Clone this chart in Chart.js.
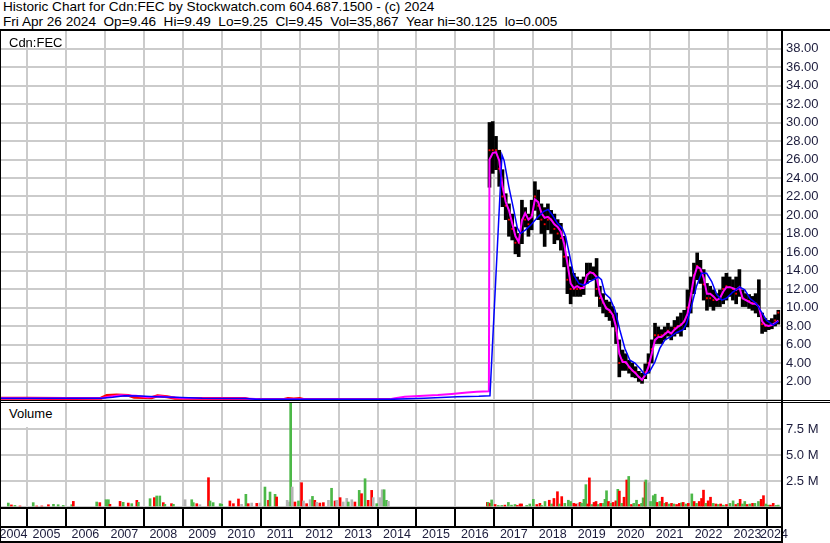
<!DOCTYPE html>
<html>
<head>
<meta charset="utf-8">
<script src="https://cdn.jsdelivr.net/npm/chart.js@4.4.1/dist/chart.umd.min.js"></script>
<style>
  body { margin: 0; background: #fff; }
  #wrap { position: relative; width: 830px; height: 543px; overflow: hidden; background: #fff;
          font-family: Arial, "Liberation Sans", sans-serif; color: #000; }
  #head { position: absolute; left: 3px; top: 0; font-size: 13.6px; line-height: 14.5px; white-space: pre; }
  canvas { position: absolute; left: 0; }
  #price { top: 30px; }
  #vol { top: 402px; }
  .ln { position: absolute; background: #000; }
  .box { position: absolute; left: 1px; width: 63px; background: #fff; }
  .tag { position: absolute; left: 9px; font-size: 13px; line-height: 15px; white-space: pre; }
</style>
</head>
<body>
<div id="wrap">
  <div id="head">Historic Chart for Cdn:FEC by Stockwatch.com 604.687.1500 - (c) 2024
Fri Apr 26 2024  Op=9.46  Hi=9.49  Lo=9.25  Cl=9.45  Vol=35,867  Year hi=30.125  lo=0.005</div>
  <canvas id="price" width="830" height="370"></canvas>
  <canvas id="vol" width="830" height="141"></canvas>

  <div class="box" style="top:31px;height:16px"></div>
  <div class="tag" style="top:35px">Cdn:FEC</div>
  <div class="box" style="top:403px;height:24px"></div>
  <div class="tag" style="top:406px">Volume</div>

  <div class="ln" style="left:0;top:29px;width:830px;height:2px"></div>
  <div class="ln" style="left:0;top:400px;width:830px;height:1px"></div>
  <div class="ln" style="left:0;top:402px;width:830px;height:1px"></div>
  <div class="ln" style="left:0;top:507px;width:782px;height:2px"></div>
  <div class="ln" style="left:0;top:526px;width:782px;height:2px"></div>
  <div class="ln" style="left:0;top:541px;width:782px;height:2px"></div>
  <div class="ln" style="left:0;top:31px;width:1px;height:512px"></div>
  <div class="ln" style="left:781px;top:29px;width:2px;height:514px"></div>
</div>

<script>
// x range of the plot, decimal years
const X_MIN = 2004.307;
const X_MAX = 2024.36;

const yearLabels = ["2004", "2005", "2006", "2007", "2008", "2009", "2010", "2011", "2012", "2013",
  "2014", "2015", "2016", "2017", "2018", "2019", "2020", "2021", "2022", "2023", "2024"];

// before the consolidation: price hugged zero
const oldDates = [2004.31, 2005.0, 2006.0, 2006.9, 2007.05, 2007.3, 2007.6, 2007.75, 2008.2, 2008.35,
  2008.6, 2008.8, 2010.6, 2010.7, 2011.6, 2011.7, 2011.85, 2012.0, 2012.1, 2014.32];
const oldPrice = [0.2, 0.18, 0.15, 0.2, 0.5, 0.55, 0.5, 0.3, 0.25, 0.45,
  0.35, 0.2, 0.15, 0.05, 0.05, 0.15, 0.1, 0.15, 0.05, 0.05];

// monthly high/low/close after trading resumed
const priceMonths = [
  "2016-11", "2016-12",
  "2017-01", "2017-02", "2017-03", "2017-04", "2017-05", "2017-06", "2017-07", "2017-08", "2017-09", "2017-10", "2017-11", "2017-12",
  "2018-01", "2018-02", "2018-03", "2018-04", "2018-05", "2018-06", "2018-07", "2018-08", "2018-09", "2018-10", "2018-11", "2018-12",
  "2019-01", "2019-02", "2019-03", "2019-04", "2019-05", "2019-06", "2019-07", "2019-08", "2019-09", "2019-10", "2019-11", "2019-12",
  "2020-01", "2020-02", "2020-03", "2020-04", "2020-05", "2020-06", "2020-07", "2020-08", "2020-09", "2020-10", "2020-11", "2020-12",
  "2021-01", "2021-02", "2021-03", "2021-04", "2021-05", "2021-06", "2021-07", "2021-08", "2021-09", "2021-10", "2021-11", "2021-12",
  "2022-01", "2022-02", "2022-03", "2022-04", "2022-05", "2022-06", "2022-07", "2022-08", "2022-09", "2022-10", "2022-11", "2022-12",
  "2023-01", "2023-02", "2023-03", "2023-04", "2023-05", "2023-06", "2023-07", "2023-08", "2023-09", "2023-10", "2023-11", "2023-12",
  "2024-01", "2024-02", "2024-03", "2024-04"];
const priceLow = [
  23.0, 24.5,
  24.9, 23.1, 20.9, 19.5, 17.7, 17.3, 15.8, 15.5, 16.9, 18.7, 17.7, 18.4,
  20.5, 19.5, 18.0, 16.6, 18.4, 18.0, 16.9, 17.3, 16.2, 14.4, 11.5, 10.4,
  11.2, 11.2, 11.2, 11.4, 12.6, 13.0, 13.0, 11.2, 10.1, 9.4, 9.0, 8.6,
  7.9, 6.1, 2.5, 3.2, 3.2, 2.9, 2.5, 2.4, 2.0, 1.8, 2.3, 2.9,
  4.0, 6.1, 6.1, 6.1, 6.5, 6.9, 6.5, 6.9, 7.2, 6.9, 7.6, 7.9,
  9.4, 11.5, 13.0, 12.6, 10.8, 9.7, 10.1, 9.7, 10.1, 10.1, 10.4, 10.8,
  11.2, 10.8, 10.4, 11.2, 10.1, 10.1, 9.9, 9.7, 9.4, 9.0, 7.2, 7.4,
  7.6, 7.7, 8.0, 8.2];
const priceHigh = [
  30.0, 30.1,
  28.5, 27.0, 24.9, 22.3, 21.2, 20.1, 18.7, 18.0, 21.6, 20.8, 20.1, 21.6,
  23.6, 22.7, 21.2, 20.8, 21.2, 20.5, 20.1, 19.5, 19.1, 17.7, 15.5, 14.4,
  13.7, 13.3, 13.0, 13.3, 14.8, 14.8, 14.4, 15.3, 12.3, 11.5, 10.8, 10.6,
  10.1, 9.4, 6.5, 5.4, 5.0, 4.3, 4.0, 3.6, 3.1, 2.9, 3.9, 5.0,
  6.5, 8.3, 7.9, 7.6, 7.9, 8.3, 7.9, 8.6, 9.0, 9.4, 9.7, 11.9,
  13.3, 14.8, 15.9, 15.1, 14.1, 12.6, 12.3, 11.9, 11.5, 11.9, 13.3, 13.7,
  13.3, 13.0, 13.3, 14.1, 11.9, 11.5, 11.4, 11.2, 11.5, 13.0, 9.4, 8.8,
  8.6, 8.8, 9.2, 9.7];
const priceClose = [
  27.0, 27.0,
  27.0, 25.0, 22.0, 21.0, 19.5, 18.5, 17.0, 17.0, 19.5, 19.5, 19.0, 20.0,
  22.0, 21.0, 19.5, 19.0, 19.5, 19.5, 18.5, 18.0, 17.5, 15.5, 13.0, 12.0,
  12.0, 12.0, 12.0, 12.3, 13.5, 13.8, 13.7, 12.0, 11.0, 10.5, 10.0, 9.5,
  9.0, 7.5, 4.0, 4.3, 4.0, 3.5, 3.2, 3.0, 2.5, 2.2, 3.0, 4.0,
  5.5, 7.0, 7.0, 7.0, 7.2, 7.5, 7.2, 7.8, 8.0, 8.2, 8.5, 10.0,
  11.5, 13.5, 14.5, 14.0, 12.5, 11.0, 11.0, 10.8, 10.8, 11.0, 12.0, 12.3,
  12.2, 12.0, 11.5, 12.0, 11.0, 10.8, 10.7, 10.5, 10.5, 10.0, 8.2, 8.0,
  8.0, 8.1, 8.6, 9.45];

// short moving average (magenta)
const maFastEarlyDates = [2004.31, 2006.9, 2007.1, 2007.4, 2007.8, 2008.1, 2008.4, 2008.7, 2009.0, 2010.6,
  2011.0, 2014.32, 2014.45, 2014.7, 2015.55, 2015.9, 2016.3, 2016.55, 2016.86];
const maFastEarly = [0.2, 0.18, 0.35, 0.5, 0.45, 0.3, 0.4, 0.3, 0.2, 0.15,
  0.07, 0.07, 0.18, 0.36, 0.54, 0.65, 0.8, 0.9, 0.95];
const maFast = [
  26.0, 26.7,
  26.8, 25.9, 23.1, 21.4, 20.5, 19.1, 17.7, 17.1, 19.4, 20.2, 19.5, 19.8,
  21.7, 21.4, 20.2, 19.7, 19.8, 19.5, 19.0, 18.7, 18.2, 16.9, 14.8, 12.6,
  12.1, 12.3, 12.1, 12.1, 13.5, 13.8, 13.7, 13.3, 11.5, 10.6, 9.9, 9.7,
  9.2, 7.9, 5.0, 4.1, 4.1, 3.6, 3.2, 2.9, 2.5, 2.2, 2.7, 3.6,
  5.0, 6.5, 6.8, 6.8, 7.1, 7.4, 7.2, 7.6, 7.9, 8.1, 8.5, 9.3,
  11.2, 13.3, 14.4, 14.2, 13.2, 11.5, 11.5, 11.2, 10.8, 11.0, 11.7, 12.2,
  12.2, 12.1, 11.9, 12.2, 11.0, 10.8, 10.6, 10.4, 10.4, 10.1, 8.5, 8.1,
  8.0, 8.1, 8.3, 8.6];

// long moving average (blue)
const maSlowDates = [2004.31, 2006.9, 2007.2, 2007.5, 2007.9, 2008.3, 2008.8, 2009.5, 2010.6, 2010.9,
  2014.32, 2015.2, 2016.05, 2016.6, 2016.887, 2017.195, 2017.25, 2017.37, 2017.5, 2017.59,
  2017.67, 2017.8, 2017.93, 2018.1, 2018.27, 2018.38, 2018.49, 2018.62, 2018.74, 2018.83,
  2018.94, 2019.04, 2019.17, 2019.3, 2019.45, 2019.67, 2019.75, 2019.84, 2019.97, 2020.1,
  2020.22, 2020.35, 2020.48, 2020.61, 2020.74, 2020.87, 2020.99, 2021.12, 2021.25, 2021.38,
  2021.51, 2021.68, 2021.85, 2021.94, 2022.06, 2022.19, 2022.32, 2022.45, 2022.58, 2022.71,
  2022.84, 2022.96, 2023.13, 2023.3, 2023.43, 2023.56, 2023.73, 2023.86, 2023.99, 2024.16, 2024.29];
const maSlow = [0.18, 0.18, 0.3, 0.45, 0.42, 0.35, 0.3, 0.2, 0.15, 0.07,
  0.07, 0.18, 0.36, 0.4, 0.45, 26.5, 25.9, 23.1, 20.5, 18.6,
  18.0, 18.4, 18.9, 19.7, 20.4, 20.6, 20.0, 19.1, 18.6, 17.7,
  15.5, 13.5, 12.6, 12.4, 12.8, 13.3, 13.0, 11.5, 11.0, 9.7,
  7.6, 5.6, 4.3, 4.0, 3.4, 2.7, 3.1, 4.1, 5.6, 6.5,
  6.8, 7.3, 7.6, 8.3, 10.1, 12.3, 13.7, 13.7, 12.8, 11.4,
  10.8, 11.0, 11.7, 12.2, 11.9, 11.0, 10.4, 9.5, 8.6, 8.1, 8.5];

// volume in millions; dir 1 = up day, -1 = down day, 0 = unchanged
const volDates = [
  2004.52, 2004.6, 2004.69, 2004.82, 2005.16, 2005.25, 2005.38, 2005.55, 2005.68, 2005.8,
  2005.93, 2006.15, 2006.19, 2006.79, 2006.87, 2007.03, 2007.09, 2007.13, 2007.39, 2007.47,
  2007.6, 2007.69, 2007.82, 2007.86, 2008.16, 2008.27, 2008.33, 2008.41, 2008.5, 2008.54,
  2008.71, 2008.76, 2009.06, 2009.23, 2009.27, 2009.36, 2009.44, 2009.66, 2009.7, 2009.78,
  2009.96, 2010.0, 2010.21, 2010.3, 2010.43, 2010.51, 2010.62, 2010.68, 2010.77, 2010.9,
  2010.98, 2011.11, 2011.2, 2011.24, 2011.37, 2011.41, 2011.68, 2011.73, 2011.77, 2011.81,
  2011.88, 2011.97, 2012.05, 2012.1, 2012.18, 2012.27, 2012.33, 2012.39, 2012.44, 2012.52,
  2012.61, 2012.74, 2012.82, 2012.91, 2012.95, 2013.04, 2013.12, 2013.21, 2013.25, 2013.34,
  2013.42, 2013.53, 2013.59, 2013.68, 2013.76, 2013.85, 2013.89, 2013.98, 2014.06, 2014.12,
  2014.17, 2014.23, 2014.28,
  2016.82, 2016.84, 2016.89, 2016.93, 2017.02, 2017.1, 2017.19, 2017.27, 2017.36, 2017.44,
  2017.53, 2017.59, 2017.66, 2017.7, 2017.83, 2017.91, 2018.0, 2018.09, 2018.17, 2018.21,
  2018.3, 2018.41, 2018.47, 2018.53, 2018.62, 2018.67, 2018.73, 2018.81, 2018.9, 2018.96,
  2019.04, 2019.1, 2019.16, 2019.2, 2019.24, 2019.3, 2019.35, 2019.4, 2019.44, 2019.5,
  2019.56, 2019.61, 2019.67, 2019.73, 2019.8, 2019.84, 2019.88, 2019.93, 2019.99, 2020.05,
  2020.12, 2020.17, 2020.21, 2020.27, 2020.33, 2020.4, 2020.45,
  2020.52, 2020.58, 2020.65, 2020.72, 2020.78, 2020.82, 2020.87, 2020.89, 2020.96, 2021.01,
  2021.08, 2021.13, 2021.18, 2021.25, 2021.31, 2021.37, 2021.42, 2021.49, 2021.55, 2021.61,
  2021.68, 2021.75, 2021.81, 2021.85, 2021.92, 2021.98, 2022.07, 2022.13, 2022.19, 2022.26,
  2022.32, 2022.37, 2022.43, 2022.49, 2022.55, 2022.62, 2022.69, 2022.75, 2022.81, 2022.88,
  2022.96, 2023.05, 2023.13, 2023.2, 2023.26, 2023.31, 2023.37, 2023.43, 2023.49, 2023.56,
  2023.63, 2023.69, 2023.78, 2023.85, 2023.91, 2023.97, 2024.03, 2024.09, 2024.16, 2024.23, 2024.29];
const volValues = [
  0.38, 0.2, 0.15, 0.1, 0.42, 0.1, 0.1, 0.22, 0.26, 0.22,
  0.15, 0.22, 0.54, 0.48, 0.42, 0.7, 0.7, 0.26, 0.54, 0.45,
  0.38, 0.32, 0.64, 0.45, 0.8, 0.9, 1.06, 1.06, 0.42, 0.26,
  0.32, 0.26, 0.7, 0.7, 0.42, 0.32, 0.22, 2.82, 0.58, 0.42,
  0.32, 0.26, 0.58, 0.32, 0.77, 0.26, 1.22, 0.32, 0.38, 0.35,
  0.38, 1.92, 0.64, 1.44, 1.22, 0.96, 0.64, 0.48, 10.0, 1.92,
  0.48, 0.58, 2.34, 0.58, 0.32, 0.7, 1.02, 0.64, 0.45, 0.38,
  0.42, 0.64, 1.8, 0.58, 0.64, 0.9, 0.48, 0.83, 0.48, 0.7,
  0.48, 1.6, 1.28, 2.72, 0.64, 1.6, 0.9, 0.32, 0.9, 1.66,
  1.66, 0.64, 0.54,
  0.44, 0.44, 0.35, 0.68, 0.24, 0.15, 0.15, 0.18, 0.44, 0.18,
  0.24, 0.15, 0.29, 0.29, 0.15, 0.29, 0.74, 0.24, 0.35, 0.15,
  0.53, 0.65, 0.29, 0.82, 1.47, 0.29, 1.0, 0.35, 0.65, 0.53,
  0.35, 0.29, 0.35, 0.44, 0.35, 0.74, 2.15, 0.29, 2.8, 0.24,
  0.44, 0.53, 0.24, 0.35, 0.35, 0.74, 1.56, 0.53, 0.35, 0.44,
  0.59, 1.7, 1.53, 0.35, 0.94, 2.6, 2.94,
  0.24, 0.35, 0.65, 0.24, 0.35, 0.88, 2.4, 2.6, 2.35, 0.53,
  1.09, 1.23, 0.44, 0.53, 0.94, 0.35, 0.44, 0.29, 0.35, 0.29,
  0.24, 0.35, 0.41, 0.44, 0.29, 0.35, 1.26, 0.53, 0.35, 0.53,
  0.82, 1.62, 0.35, 0.59, 0.94, 0.35, 0.29, 0.24, 0.29, 0.18,
  0.24, 0.35, 0.59, 0.24, 0.35, 0.74, 0.29, 0.53, 0.24, 0.29,
  0.35, 0.35, 0.53, 0.74, 1.09, 0.29, 0.18, 0.18, 0.35, 0.15, 0.18];
const volDir = [
  1, -1, 1, -1, 1, -1, -1, -1, 1, 1,
  1, 1, -1, 1, -1, 1, 1, -1, -1, 1,
  -1, 1, -1, 1, 1, -1, 1, 1, -1, 1,
  -1, 1, 0, 1, 1, -1, 0, -1, 1, 1,
  1, 1, -1, -1, -1, 0, 1, -1, 0, -1,
  0, 1, -1, 1, 1, -1, 0, 0, 1, 0,
  -1, 1, -1, 0, -1, 0, 1, -1, 0, -1,
  -1, 0, 1, -1, 0, -1, 0, 0, 1, 0,
  -1, 1, -1, 1, -1, -1, 0, 1, 0, 0,
  1, 1, 0,
  -1, 1, -1, 1, -1, 1, 1, -1, 1, 1,
  1, -1, -1, -1, 1, 1, 1, -1, -1, 1,
  1, -1, 1, -1, -1, 1, -1, 1, 1, 1,
  -1, -1, 0, -1, 1, 1, 1, -1, -1, 1,
  -1, -1, 1, -1, 1, 1, 1, -1, 1, -1,
  -1, 1, -1, 1, -1, -1, 1,
  -1, 1, 1, -1, 1, 1, -1, 1, 0, 1,
  1, 1, -1, 1, -1, 1, -1, 1, -1, 1,
  -1, -1, 1, -1, 1, -1, 1, -1, 1, -1,
  -1, -1, 1, -1, -1, 1, -1, 1, -1, 1,
  -1, 1, 1, -1, 1, -1, 1, 1, -1, 1,
  -1, 1, 1, -1, -1, 1, 1, -1, -1, 1, 1];

const GRID = "#cbcbcb";
const TICK_COLOR = "#1c1c3c";
const FONT = { family: "Arial, 'Liberation Sans', sans-serif", size: 13 };
const YEAR_FONT = { family: "Arial, 'Liberation Sans', sans-serif", size: 12.5 };
const DIR_COLORS = { "1": "#4cb848", "-1": "#ff0000", "0": "#b4b4b4" };

function monthToYear(s) {
  const [y, m] = s.split("-").map(Number);
  return y + (m - 0.5) / 12;
}

function pairs(xs, ys) {
  return xs.map((x, i) => ({ x, y: ys[i] }));
}

const monthYears = priceMonths.map(monthToYear);
const barPoints = monthYears.map((x, i) => ({ x, y: [priceLow[i], priceHigh[i]] }));
const closePoints = pairs(monthYears, priceClose);
const fastPoints = pairs(maFastEarlyDates, maFastEarly).concat(pairs(monthYears, maFast));
const slowPoints = pairs(maSlowDates, maSlow);
const oldPoints = pairs(oldDates, oldPrice);
const volPoints = pairs(volDates, volValues);

const yearBounds = yearLabels.slice(1).map((y) => ({ value: Number(y) }));
const yearMids = yearLabels.map((y) => {
  const a = Math.max(Number(y), X_MIN);
  const b = Math.min(Number(y) + 1, X_MAX);
  return { value: (a + b) / 2 };
});

function noPad(scale) {
  scale.paddingLeft = 0;
  scale.paddingRight = 0;
  scale.paddingTop = 0;
  scale.paddingBottom = 0;
}

const baseOptions = {
  responsive: false,
  animation: false,
  layout: { autoPadding: false, padding: 0 },
  plugins: { legend: { display: false }, tooltip: { enabled: false } },
};

new Chart(document.getElementById("price"), {
  type: "bar",
  data: {
    datasets: [
      { type: "line", data: slowPoints, borderColor: "#0000ff", borderWidth: 1.5, pointRadius: 0, order: 0 },
      { type: "line", data: fastPoints, borderColor: "#ff00ff", borderWidth: 2, pointRadius: 0, order: 1 },
      { type: "line", data: oldPoints, borderColor: "#ff0000", borderWidth: 3, pointRadius: 0, order: 2 },
      {
        type: "line", data: closePoints, showLine: false, pointStyle: "rect", pointRadius: 1.3,
        pointBackgroundColor: "#ff0000", pointBorderWidth: 0, order: 2,
      },
      { type: "bar", data: barPoints, backgroundColor: "#000000", barThickness: 3, order: 3 },
    ],
  },
  options: {
    ...baseOptions,
    scales: {
      x: {
        type: "linear", min: X_MIN, max: X_MAX, offset: false,
        afterBuildTicks: (s) => { s.ticks = yearBounds.map((t) => ({ ...t })); },
        afterFit: (s) => { s.height = 0; noPad(s); },
        ticks: { display: false, autoSkip: false },
        grid: { color: GRID, lineWidth: 2, drawTicks: false, offset: false },
        border: { display: false },
      },
      y: {
        position: "right", min: 0, max: 40,
        afterFit: (s) => { s.width = 49; noPad(s); },
        ticks: {
          stepSize: 2, autoSkip: false, padding: 5, color: TICK_COLOR, font: FONT,
          callback: (v) => (v > 0 && v < 40 ? v.toFixed(2) : ""),
        },
        grid: { color: GRID, lineWidth: 2, drawTicks: false },
        border: { display: false },
      },
    },
  },
});

new Chart(document.getElementById("vol"), {
  type: "bar",
  data: {
    datasets: [
      {
        data: volPoints,
        backgroundColor: volDir.map((d) => DIR_COLORS[String(d)]),
        barThickness: 2,
      },
    ],
  },
  options: {
    ...baseOptions,
    layout: { autoPadding: false, padding: { bottom: 2 } },
    scales: {
      x: {
        type: "linear", min: X_MIN, max: X_MAX, offset: false, weight: 0,
        afterBuildTicks: (s) => { s.ticks = yearBounds.map((t) => ({ ...t })); },
        afterFit: (s) => { s.height = 20; noPad(s); },
        ticks: { display: false, autoSkip: false },
        grid: { color: GRID, lineWidth: 2, tickColor: "#000000", tickLength: 20, tickWidth: 2, offset: false },
        border: { display: false },
      },
      xl: {
        type: "linear", position: "bottom", min: X_MIN, max: X_MAX, offset: false, weight: 1,
        afterBuildTicks: (s) => { s.ticks = yearMids.map((t) => ({ ...t })); },
        afterFit: (s) => { s.height = 14; noPad(s); },
        ticks: {
          autoSkip: false, maxRotation: 0, padding: 0, color: TICK_COLOR, font: YEAR_FONT,
          callback: (v, i) => yearLabels[i],
        },
        grid: { display: false, drawTicks: false },
        border: { display: false },
      },
      y: {
        position: "right", min: 0, max: 10.1,
        afterBuildTicks: (s) => { s.ticks = [0, 2.5, 5, 7.5].map((value) => ({ value })); },
        afterFit: (s) => { s.width = 49; noPad(s); },
        ticks: {
          autoSkip: false, padding: 5, color: TICK_COLOR, font: FONT,
          callback: (v) => (v > 0 ? v.toFixed(1) + " M" : ""),
        },
        grid: { color: GRID, lineWidth: 2, drawTicks: false },
        border: { display: false },
      },
    },
  },
});
</script>
</body>
</html>
